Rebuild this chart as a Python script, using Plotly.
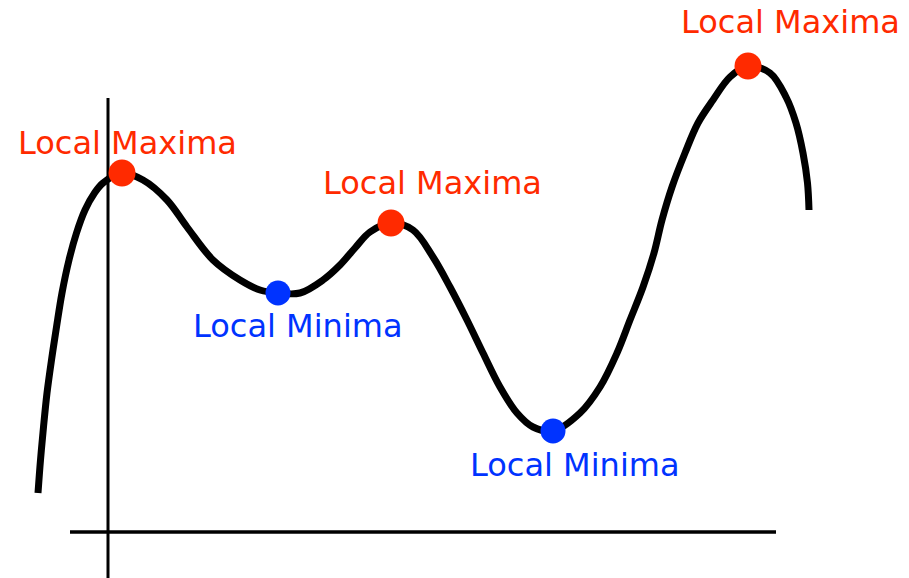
import plotly.graph_objects as go

# Curve samples (x to the right, y downward)
curve_x = [38, 40.5, 43.5, 47, 51.5, 56.5, 62, 69, 76.5, 85, 94.5, 103, 122,
           143, 167, 187, 213, 240, 260, 278,
           300, 323, 340, 355, 370, 391,
           413, 433, 450, 467, 483, 500, 517, 533, 553,
           580, 600, 617, 630, 643, 654, 662, 672, 685, 698, 713, 730, 748,
           770, 786, 796, 803, 807.5, 809]
curve_y = [493, 460, 427, 393, 360, 327, 293, 260, 233, 210, 193, 183, 173,
           180, 200, 227, 260, 280, 290, 293,
           293, 280, 265, 248, 232, 223,
           230, 257, 287, 320, 353, 387, 413, 427, 431,
           413, 387, 353, 320, 287, 253, 220, 187, 153, 123, 100, 77, 66,
           73, 97, 123, 153, 183, 210]

max_x = [122, 391, 748]
max_y = [173, 223, 66]
min_x = [278, 553]
min_y = [293, 431]

max_label_x = [127, 432, 790]
max_label_y = [143, 183, 22]
min_label_x = [298, 575]
min_label_y = [326, 465]

axis_v_x = [108, 108]
axis_v_y = [98, 580]
axis_h_x = [70, 776]
axis_h_y = [532, 532]

RED = "#ff2a00"
BLUE = "#0033ff"

fig = go.Figure()
fig.add_trace(go.Scatter(x=axis_v_x, y=axis_v_y, mode="lines",
                         line=dict(color="black", width=3), hoverinfo="skip"))
fig.add_trace(go.Scatter(x=axis_h_x, y=axis_h_y, mode="lines",
                         line=dict(color="black", width=3.5), hoverinfo="skip"))
fig.add_trace(go.Scatter(x=curve_x, y=curve_y, mode="lines",
                         line=dict(color="black", width=7, shape="spline",
                                   smoothing=1.0, simplify=False)))
fig.add_trace(go.Scatter(x=max_x, y=max_y, mode="markers",
                         marker=dict(color=RED, size=27, line=dict(width=0))))
fig.add_trace(go.Scatter(x=min_x, y=min_y, mode="markers",
                         marker=dict(color=BLUE, size=25, line=dict(width=0))))

for x, y in zip(max_label_x, max_label_y):
    fig.add_annotation(x=x, y=y, text="Local Maxima", showarrow=False,
                       xanchor="center", yanchor="middle",
                       font=dict(family="DejaVu Sans", size=32, color=RED))
for x, y in zip(min_label_x, min_label_y):
    fig.add_annotation(x=x, y=y, text="Local Minima", showarrow=False,
                       xanchor="center", yanchor="middle",
                       font=dict(family="DejaVu Sans", size=32, color=BLUE))

fig.update_layout(
    width=909, height=578,
    margin=dict(l=0, r=0, t=0, b=0),
    paper_bgcolor="white", plot_bgcolor="white",
    showlegend=False,
    hovermode=False,
    xaxis=dict(range=[0, 909], visible=False, fixedrange=True),
    yaxis=dict(range=[578, 0], visible=False, fixedrange=True),
)

# Remove the page's default 8px body margin so the figure fills the window.
fig.write_html("out.html",
               config={"displayModeBar": False, "staticPlot": True},
               post_script="document.body.style.margin='0';document.body.style.overflow='hidden';")
